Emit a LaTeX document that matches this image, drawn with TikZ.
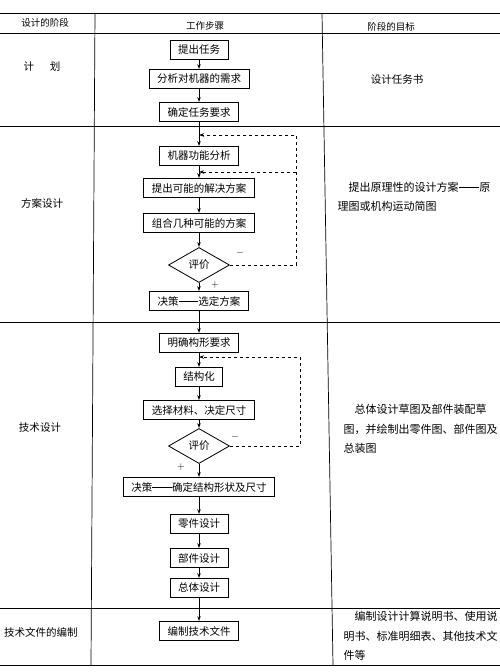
\documentclass[tikz,border=0pt]{standalone}
\usepackage{fontspec}
\setmainfont{Noto Sans CJK SC}
\usetikzlibrary{shapes.geometric,arrows.meta}
\newcommand{\longdash}{\rule[0.36em]{1.9em}{0.6pt}}

\begin{document}
\begin{tikzpicture}[x=1pt, y=-1pt,
    task/.style={draw, line width=0.8pt, minimum height=19pt, inner xsep=8pt, inner ysep=2pt, font=\fontsize{10.5}{12}\selectfont},
    check/.style={draw, diamond, aspect=1.75, minimum width=61pt, minimum height=35pt, inner sep=0pt, line width=0.8pt, font=\fontsize{10.5}{12}\selectfont},
    flow/.style={-{Stealth[length=5pt,width=3.5pt]}, line width=0.8pt},
    back/.style={flow, dashed},
    stage/.style={font=\fontsize{10.5}{12}\selectfont},
    head/.style={font=\fontsize{9.5}{11}\selectfont},
    goal/.style={anchor=west, align=left, font=\fontsize{11}{19.5}\selectfont}]
    \useasboundingbox (0,0) rectangle (500,672);
    % table
    \foreach \y in {13,33,126,322,608,665} \draw[line width=0.7pt] (0,\y) -- (500,\y);
    \draw[line width=0.7pt] (95,13) -- (91,665);
    \draw[line width=0.7pt] (322,13) -- (333,665);
    \node[head] (h1) at (45,23) {设计的阶段};
    \node[head] (h2) at (205,26) {工作步骤};
    \node[head] (h3) at (391,27) {阶段的目标};
    \node[stage] (p1) at (42,67) {计\hspace{1.5em}划};
    \node[stage] (p2) at (42,203) {方案设计};
    \node[stage] (p3) at (40,428) {技术设计};
    \node[stage] (p4) at (41,632) {技术文件的编制};
    % steps
    \node[task] (t1) at (199,50) {提出任务};
    \node[task] (t2) at (199,79) {分析对机器的需求};
    \node[task] (t3) at (199,112) {确定任务要求};
    \node[task] (s1) at (199,156) {机器功能分析};
    \node[task] (s2) at (199,188) {提出可能的解决方案};
    \node[task] (s3) at (199,223) {组合几种可能的方案};
    \node[check] (e1) at (199,265) {评价};
    \node[task] (s4) at (199,301) {决策\longdash 选定方案};
    \node[task] (d1) at (199,343) {明确构形要求};
    \node[task] (d2) at (199,377) {结构化};
    \node[task] (d3) at (199,410) {选择材料、决定尺寸};
    \node[check] (e2) at (199,446) {评价};
    \node[task] (d4) at (199,487) {决策\longdash 确定结构形状及尺寸};
    \node[task] (d5) at (199,524) {零件设计};
    \node[task] (d6) at (199,558) {部件设计};
    \node[task] (d7) at (199,588) {总体设计};
    \node[task] (f1) at (199,631) {编制技术文件};
    \foreach \a/\b in {t1/t2,t2/t3,t3/s1,s1/s2,s2/s3,s3/e1,e1/s4,s4/d1,d1/d2,d2/d3,d3/e2,e2/d4,d4/d5,d5/d6,d6/d7,d7/f1}
        \draw[flow] (\a) -- (\b);
    % feedback
    \coordinate (m1) at (199,135);
    \coordinate (m2) at (199,172);
    \coordinate (j1) at (296,172);
    \coordinate (m3) at (199,357);
    \draw[back] (e1.east) -- ++(66,0) |- (m1);
    \draw[back] (j1) -- (m2);
    \draw[back] (e2.east) -- ++(70,0) |- (m3);
    \node (n1) at (240,253) {$-$};
    \node (y1) at (215,285) {$+$};
    \node (n2) at (235,437) {$-$};
    \node (y2) at (181,467) {$+$};
    % goals
    \node[stage] (g1) at (397,80) {设计任务书};
    \node[goal] (g2) at (334,197) {\hspace*{1em}提出原理性的设计方案\longdash 原\\理图或机构运动简图};
    \node[goal] (g3) at (340,429) {\hspace*{1em}总体设计草图及部件装配草\\图，并绘制出零件图、部件图及\\总装图};
    \node[goal] (g4) at (340,636) {\hspace*{1em}编制设计计算说明书、使用说\\明书、标准明细表、其他技术文\\件等};
\end{tikzpicture}
\end{document}
